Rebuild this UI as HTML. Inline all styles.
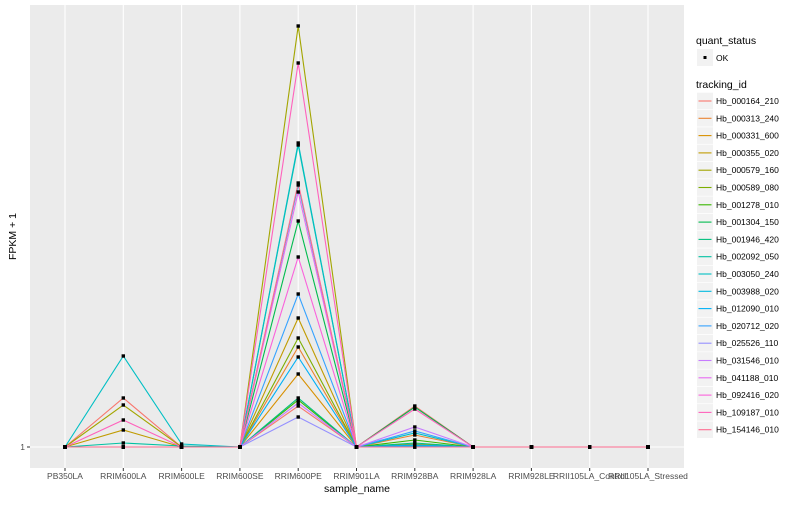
<!DOCTYPE html>
<html><head><meta charset="utf-8"><style>
body{margin:0;background:#fff;font-family:"Liberation Sans",sans-serif}
svg text{font-family:"Liberation Sans",sans-serif}
</style></head><body>
<svg id="c" width="800" height="500" xmlns="http://www.w3.org/2000/svg"></svg>
<script>
const categories=["PB350LA","RRIM600LA","RRIM600LE","RRIM600SE","RRIM600PE","RRIM901LA","RRIM928BA","RRIM928LA","RRIM928LE","RRII105LA_Control","RRII105LA_Stressed"];
const ids=["Hb_000164_210","Hb_000313_240","Hb_000331_600","Hb_000355_020","Hb_000579_160","Hb_000589_080","Hb_001278_010","Hb_001304_150","Hb_001946_420","Hb_002092_050","Hb_003050_240","Hb_003988_020","Hb_012090_010","Hb_020712_020","Hb_025526_110","Hb_031546_010","Hb_041188_010","Hb_092416_020","Hb_109187_010","Hb_154146_010"];
const colors=["#F8766D","#EA8331","#D89000","#C09B00","#A3A500","#7CAE00","#39B600","#00BB4E","#00BF7D","#00C1A3","#00BFC4","#00BAE0","#00B0F6","#35A2FF","#9590FF","#C77CFF","#E76BF3","#FA62DB","#FF62BC","#FF6C91"];
// values (FPKM+1) per series across categories
const s000164=[1,50,1,1,42,1,42,1,1,1,1];
const s000313=[1,1,1,1,101,1,13,1,1,1,1];
const s000331=[1,1,1,1,74,1,3,1,1,1,1];
const s000355=[1,18,1,1,130,1,4,1,1,1,1];
const s000579=[1,43,1,1,422,1,2,1,1,1,1];
const s000589=[1,1,1,1,110,1,2,1,1,1,1];
const s001278=[1,1,1,1,48,1,8,1,1,1,1];
const s001304=[1,1,1,1,227,1,41,1,1,1,1];
const s001946=[1,1,1,1,50,1,5,1,1,1,1];
const s002092=[1,5,2,1,303,1,3,1,1,1,1];
const s003050=[1,92,4,1,305,1,15,1,1,1,1];
const s003988=[1,1,1,1,263,1,2,1,1,1,1];
const s012090=[1,1,1,1,91,1,3,1,1,1,1];
const s020712=[1,1,1,1,154,1,17,1,1,1,1];
const s025526=[1,1,1,1,31,1,1,1,1,1,1];
const s031546=[1,1,1,1,45,1,21,1,1,1,1];
const s041188=[1,1,1,1,256,1,1,1,1,1,1];
const s092416=[1,1,1,1,191,1,1,1,1,1,1];
const s109187=[1,28,1,1,385,1,39,1,1,1,1];
const s154146=[1,1,1,1,265,1,1,1,1,1,1];
const series=[s000164,s000313,s000331,s000355,s000579,s000589,s001278,s001304,s001946,s002092,s003050,s003988,s012090,s020712,s025526,s031546,s041188,s092416,s109187,s154146];
const yTicks=[1];

const NS="http://www.w3.org/2000/svg";
const svg=document.getElementById('c');
function mk(t,a,p){const e=document.createElementNS(NS,t);for(const k in a)e.setAttribute(k,a[k]);(p||svg).appendChild(e);return e;}
const L=30,R=684,T=5,B=468;
const xS=i=>65+i*(648-65)/(categories.length-1);
const yS=v=>447-(v-1);
const panel=mk('rect',{x:L,y:T,width:R-L,height:B-T,fill:'#EBEBEB'});


categories.forEach((c,i)=>{
  const g=mk('line',{x1:xS(i),x2:xS(i),y1:T,y2:B,stroke:'#fff','stroke-width':1.1});
  
  
  mk('line',{x1:xS(i),x2:xS(i),y1:B,y2:B+3,stroke:'#333','stroke-width':1});
  const t=mk('text',{x:xS(i),y:479,'font-size':8.5,fill:'#4D4D4D','text-anchor':'middle'});
  t.textContent=c;
  
  
});
yTicks.forEach(v=>{
  const g=mk('line',{x1:L,x2:R,y1:yS(v),y2:yS(v),stroke:'#fff','stroke-width':1.1});
  
  
  mk('line',{x1:L-3,x2:L,y1:yS(v),y2:yS(v),stroke:'#333'});
  const t=mk('text',{x:L-5,y:yS(v)+3,'font-size':8.5,fill:'#4D4D4D','text-anchor':'end'});
  t.textContent=v;
  
  
});
series.forEach((s,k)=>{
  const p=mk('polyline',{points:s.map((v,i)=>xS(i)+','+yS(v)).join(' '),fill:'none',stroke:colors[k],'stroke-width':1.1});
  
  
});
series.forEach((s,k)=>{s.forEach((v,i)=>{
  const r=mk('rect',{x:xS(i)-1.7,y:yS(v)-1.7,width:3.4,height:3.4,fill:'#000'});
  
  
});});
let t=mk('text',{x:(L+R)/2,y:492,'font-size':10.5,fill:'#000','text-anchor':'middle'});t.textContent='sample_name';


t=mk('text',{x:16,y:(T+B)/2,'font-size':10.5,fill:'#000','text-anchor':'middle',transform:'rotate(-90 16 '+((T+B)/2)+')'});t.textContent='FPKM + 1';


// legend
t=mk('text',{x:696,y:44,'font-size':10.5,fill:'#000'});t.textContent='quant_status';


mk('rect',{x:697,y:49,width:16,height:17,fill:'#F2F2F2'});
mk('rect',{x:703.5,y:56,width:3,height:3,fill:'#000'});
t=mk('text',{x:716,y:61,'font-size':8.5,fill:'#000'});t.textContent='OK';


t=mk('text',{x:696,y:88,'font-size':10.5,fill:'#000'});t.textContent='tracking_id';


ids.forEach((id,k)=>{
  const cy=101+k*17.3;
  mk('rect',{x:697,y:cy-8.3,width:16,height:16.6,fill:'#F2F2F2'});
  mk('line',{x1:698.5,x2:711.5,y1:cy,y2:cy,stroke:colors[k],'stroke-width':1.1});
  const e=mk('text',{x:716,y:cy+3,'font-size':8.5,fill:'#000'});e.textContent=id;
  
  
});
</script>
</body></html>
